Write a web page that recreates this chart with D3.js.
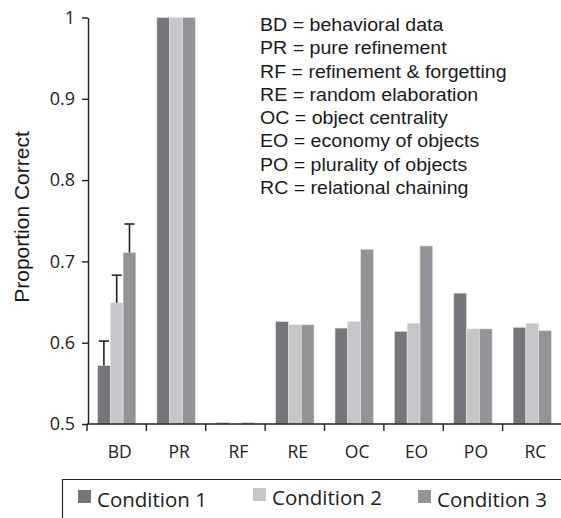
<!DOCTYPE html>
<html>
<head>
<meta charset="utf-8">
<script src="https://cdn.jsdelivr.net/npm/d3@7"></script>
<style>
  body { margin: 0; background: #fff; }
  svg { display: block; }
</style>
</head>
<body>
<div id="chart"></div>
<script>
// data
const categories = ["BD", "PR", "RF", "RE", "OC", "EO", "PO", "RC"];
const conditions = ["Condition 1", "Condition 2", "Condition 3"];
const cond1 = [0.572, 1.0, 0.502, 0.626, 0.618, 0.614, 0.661, 0.619];
const cond2 = [0.649, 1.0, 0.500, 0.622, 0.626, 0.624, 0.617, 0.624];
const cond3 = [0.711, 1.0, 0.502, 0.622, 0.715, 0.719, 0.617, 0.615];
// upper error bar ends, behavioral data only
const errTop = [0.602, 0.683, 0.746];
const yTicks = [0.5, 0.6, 0.7, 0.8, 0.9, 1];
const glossary = [
  "BD = behavioral data",
  "PR = pure refinement",
  "RF = refinement & forgetting",
  "RE = random elaboration",
  "OC = object centrality",
  "EO = economy of objects",
  "PO = plurality of objects",
  "RC = relational chaining"
];
const colors = ["#76767a", "#c6c6c8", "#939397"];

const width = 561, height = 518;
const svg = d3.select("#chart").append("svg")
  .attr("width", width).attr("height", height);

const x = d3.scaleBand().domain(categories).range([87, 562]).padding(0);
const x1 = d3.scaleBand().domain(conditions).range([0, x.bandwidth()])
  .paddingInner(0).paddingOuter(0.82);
const y = d3.scaleLinear().domain([0.5, 1]).range([424, 17.5]);

const series = [cond1, cond2, cond3];
const rows = [];
categories.forEach(function (c, i) {
  conditions.forEach(function (k, j) {
    rows.push({cat: c, cond: k, j: j, value: series[j][i]});
  });
});

// bars
svg.append("g").selectAll("rect")
  .data(rows)
  .join("rect")
  .attr("x", d => x(d.cat) + x1(d.cond))
  .attr("y", d => y(d.value))
  .attr("width", x1.bandwidth())
  .attr("height", d => y(0.5) - y(d.value))
  .attr("fill", d => colors[d.j])
  .attr("stroke", "#e6e6e6")
  .attr("stroke-width", 0.6);

// error bars (BD)
const errG = svg.append("g").attr("stroke", "#222").attr("stroke-width", 1.6);
errTop.forEach(function (e, j) {
  const cx = x("BD") + x1(conditions[j]) + x1.bandwidth() / 2;
  errG.append("line").attr("x1", cx).attr("x2", cx)
    .attr("y1", y(series[j][0])).attr("y2", y(e));
  errG.append("line").attr("x1", cx - 5).attr("x2", cx + 5)
    .attr("y1", y(e)).attr("y2", y(e));
});

// y axis
const yAxis = svg.append("g")
  .attr("transform", "translate(88,0)")
  .call(d3.axisLeft(y).tickValues(yTicks).tickFormat(d3.format("")).tickSize(6).tickSizeOuter(0));
yAxis.select(".domain").attr("stroke", "#222").attr("stroke-width", 1.4);
yAxis.selectAll(".tick line").attr("stroke", "#222").attr("stroke-width", 1.4);
yAxis.selectAll("text")
  .attr("x", -13)
  .attr("fill", "#222")
  .style("font-family", "'Open Sans', sans-serif")
  .style("font-size", "18px");

svg.append("text")
  .attr("transform", "translate(29,217) rotate(-90)")
  .attr("text-anchor", "middle")
  .attr("fill", "#1a1a1a")
  .style("font-family", "'Liberation Sans', Arial, sans-serif")
  .style("font-size", "21px")
  .text("Proportion Correct");

// x axis: line with ticks on category boundaries
const xg = svg.append("g").attr("stroke", "#222").attr("stroke-width", 1.4);
xg.append("line").attr("x1", 87).attr("x2", 562).attr("y1", y(0.5)).attr("y2", y(0.5));
categories.concat(["end"]).forEach(function (c, i) {
  const px = i < categories.length ? x(c) : x.range()[1];
  xg.append("line").attr("x1", px).attr("x2", px)
    .attr("y1", y(0.5)).attr("y2", y(0.5) + 7);
});
svg.append("g").selectAll("text")
  .data(categories)
  .join("text")
  .attr("x", d => x(d) + x.bandwidth() / 2 + 3)
  .attr("y", 458)
  .attr("text-anchor", "middle")
  .attr("fill", "#222")
  .style("font-family", "'Open Sans', sans-serif")
  .style("font-size", "17.5px")
  .text(d => d);

// glossary (source text is slightly wide, so stretch horizontally)
svg.append("g")
  .attr("transform", "translate(260,0) scale(1.12,1)")
  .selectAll("text")
  .data(glossary)
  .join("text")
  .attr("x", 0)
  .attr("y", (d, i) => 31 + i * 23.3)
  .attr("fill", "#1a1a1a")
  .style("font-family", "'Liberation Sans', Arial, sans-serif")
  .style("font-size", "17.5px")
  .text(d => d);

// legend box (cut off at the bottom)
const lg = svg.append("g");
lg.append("path")
  .attr("d", "M62.5,518 V479.5 H561")
  .attr("fill", "none")
  .attr("stroke", "#222")
  .attr("stroke-width", 1.2);
const legendX = [78, 253, 418];
const legendY = [490, 488, 490];
conditions.forEach(function (k, j) {
  lg.append("rect")
    .attr("x", legendX[j]).attr("y", legendY[j])
    .attr("width", 13).attr("height", 13)
    .attr("fill", colors[j]);
  lg.append("text")
    .attr("x", legendX[j] + 19).attr("y", legendY[j] + 17)
    .attr("fill", "#222")
    .style("font-family", "'Open Sans', sans-serif")
    .style("font-size", "20.5px")
    .text(k);
});
</script>
</body>
</html>
